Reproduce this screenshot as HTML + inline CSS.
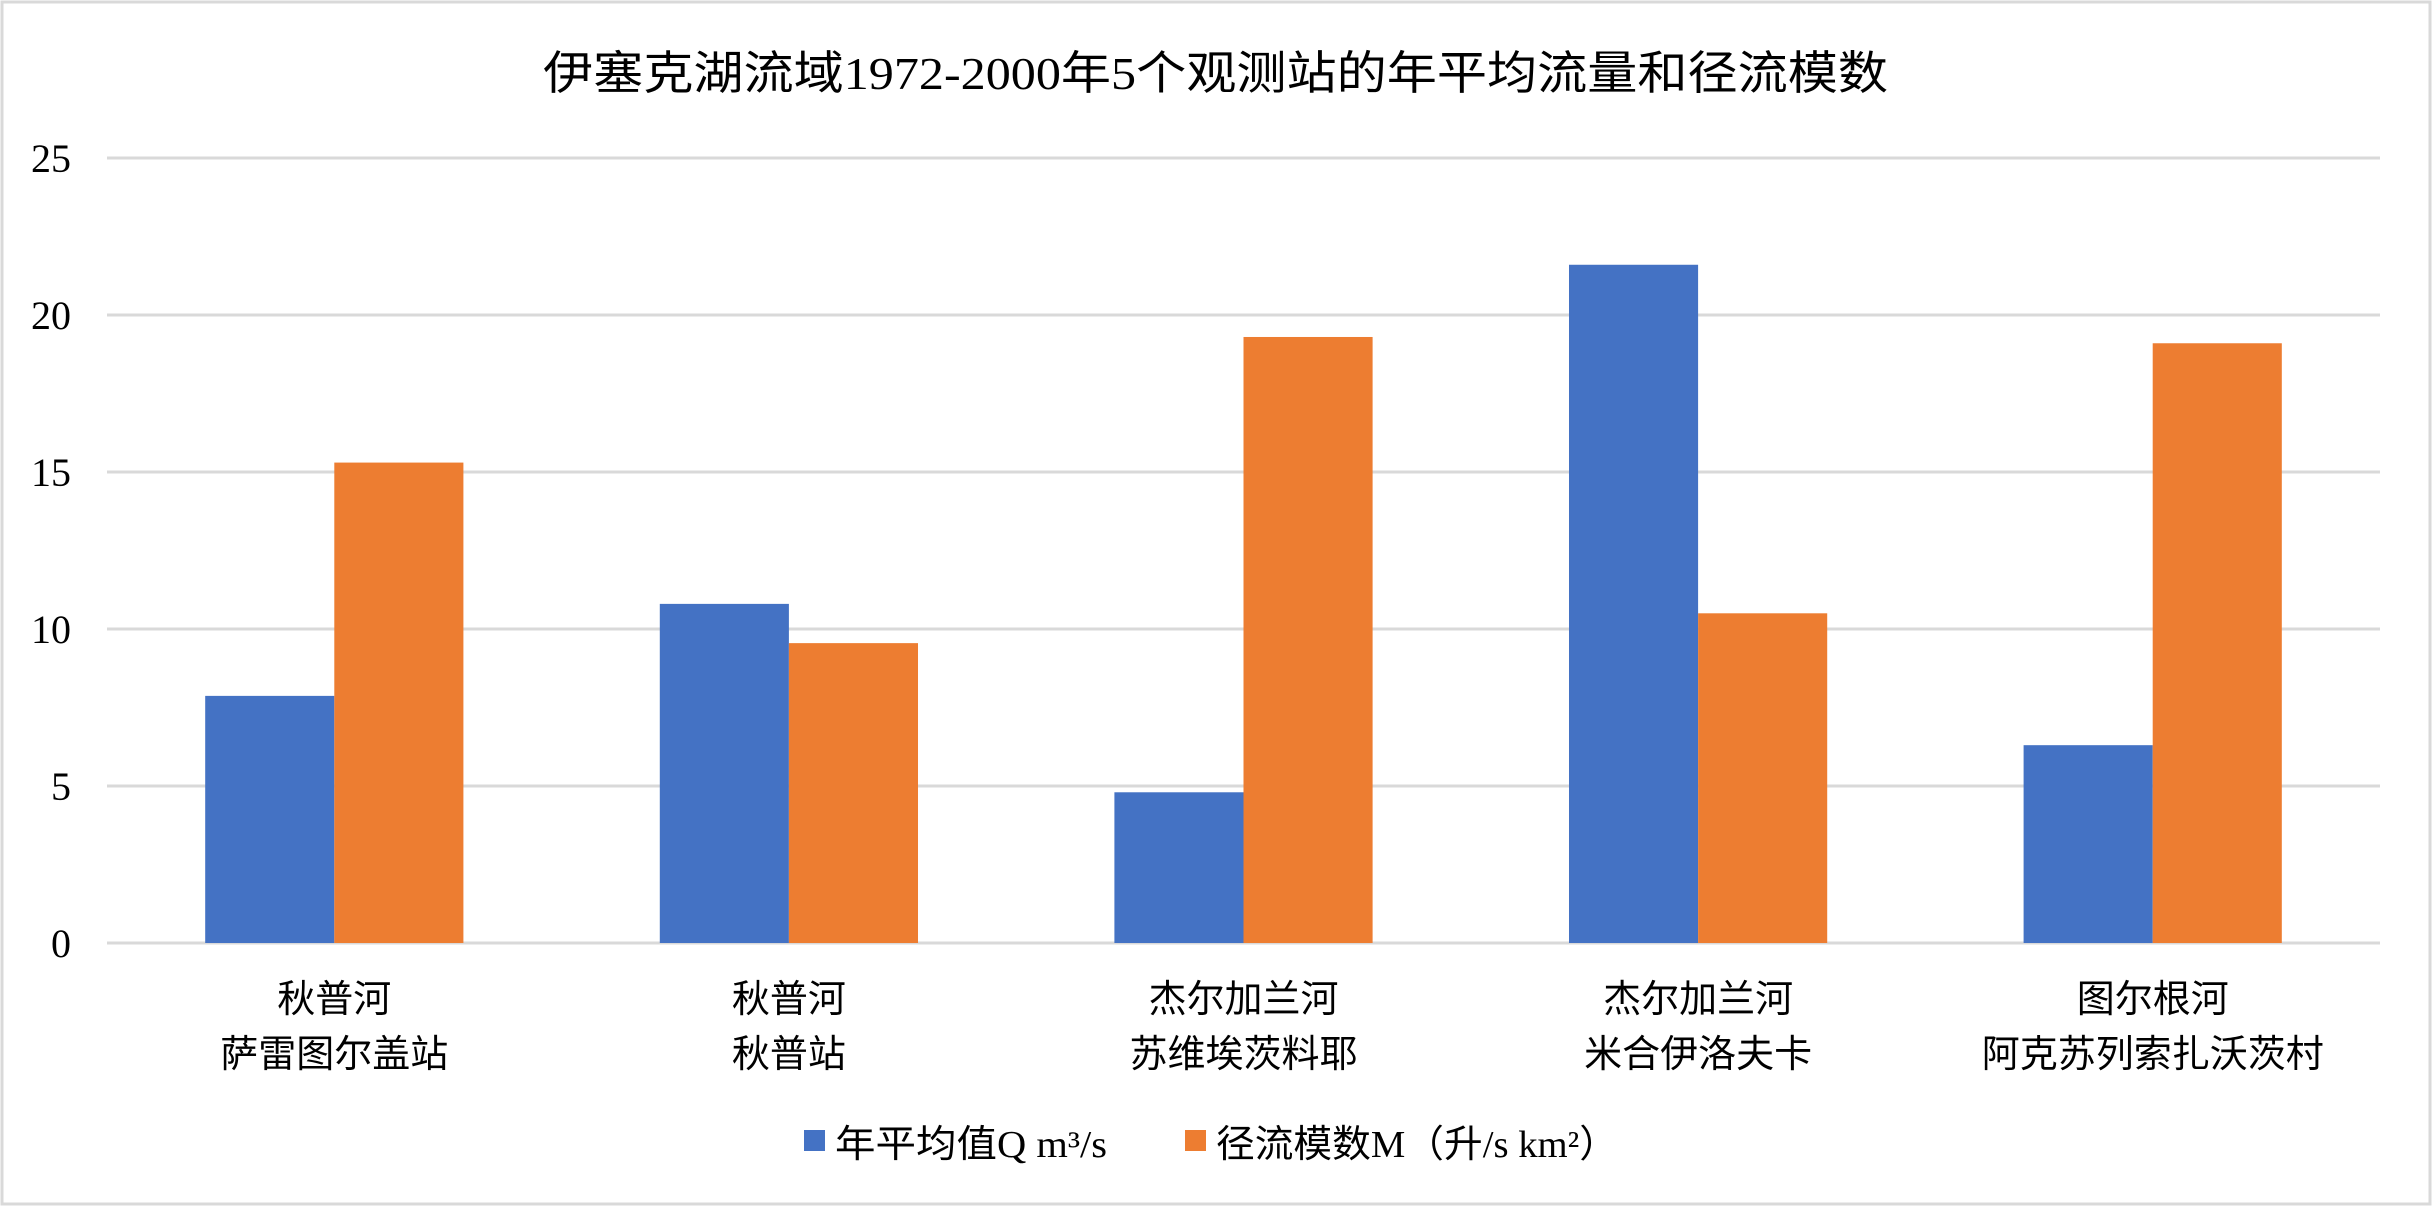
<!DOCTYPE html>
<html><head><meta charset="utf-8"><style>
html,body{margin:0;padding:0;background:#fff}
svg{display:block}
text{font-family:"Liberation Serif","Noto Sans CJK SC",serif;fill:#000}
.cjk{font-family:"Liberation Serif","Noto Sans CJK SC",sans-serif}
</style></head><body>
<svg id="chart" width="2432" height="1207" viewBox="0 0 2432 1207" xmlns="http://www.w3.org/2000/svg">
<rect x="2" y="2" width="2428" height="1202" fill="#fff" stroke="#d9d9d9" stroke-width="3"/>
<text class="cjk" x="543" y="89" font-size="46" textLength="1345" lengthAdjust="spacingAndGlyphs">伊塞克湖流域1972-2000年5个观测站的年平均流量和径流模数</text>
<g id="grid"></g>
<g id="yticks"></g>
<g id="bars"></g>
<g id="xlabels"></g>
<g>
<rect x="804" y="1130" width="21" height="21" fill="#4472c4"/>
<text class="cjk" x="835" y="1157" font-size="38" textLength="272" lengthAdjust="spacingAndGlyphs">年平均值Q m³/s</text>
<rect x="1185" y="1130" width="21" height="21" fill="#ed7d31"/>
<text class="cjk" x="1216" y="1157" font-size="38" textLength="402" lengthAdjust="spacingAndGlyphs">径流模数M（升/s km²）</text>
</g>
</svg>
<script>
const categoriesLine1 = ["秋普河","秋普河","杰尔加兰河","杰尔加兰河","图尔根河"];
const categoriesLine2 = ["萨雷图尔盖站","秋普站","苏维埃茨料耶","米合伊洛夫卡","阿克苏列索扎沃茨村"];
const seriesQ = [7.87, 10.8, 4.8, 21.6, 6.3];
const seriesM = [15.3, 9.55, 19.3, 10.5, 19.1];
const yTicks = [0, 5, 10, 15, 20, 25];

const NS = "http://www.w3.org/2000/svg";
const plotL = 107, plotR = 2380, y0 = 943, yTop = 158, yMax = 25;
const yScale = v => y0 - (v / yMax) * (y0 - yTop);
const catW = (plotR - plotL) / categoriesLine1.length;
const xCenter = i => plotL + catW * (i + 0.5);
const barW = catW * 0.284;

function mk(tag, attrs, parent) {
  const el = document.createElementNS(NS, tag);
  for (const k in attrs) el.setAttribute(k, attrs[k]);
  parent.appendChild(el);
  return el;
}
const grid = document.getElementById('grid');
const yt = document.getElementById('yticks');
yTicks.forEach(t => {
  const y = yScale(t);
  const l = mk('line', {x1: plotL, x2: plotR, y1: y, y2: y, stroke: '#d9d9d9', 'stroke-width': 3}, grid);
  
  
  const tx = mk('text', {x: 71, y: y + 14, 'font-size': 40, 'text-anchor': 'end'}, yt);
  tx.textContent = String(t);
  
  
});
const bars = document.getElementById('bars');
const xl = document.getElementById('xlabels');
categoriesLine1.forEach((c, i) => {
  const cx = xCenter(i);
  const b1 = mk('rect', {x: cx - barW, y: yScale(seriesQ[i]), width: barW, height: y0 - yScale(seriesQ[i]), fill: '#4472c4'}, bars);
  
  
  const b2 = mk('rect', {x: cx, y: yScale(seriesM[i]), width: barW, height: y0 - yScale(seriesM[i]), fill: '#ed7d31'}, bars);
  
  
  const t1 = mk('text', {x: cx, y: 1012, 'font-size': 38, 'text-anchor': 'middle', class: 'cjk'}, xl);
  t1.textContent = c;
  
  
  const t2 = mk('text', {x: cx, y: 1067, 'font-size': 38, 'text-anchor': 'middle', class: 'cjk'}, xl);
  t2.textContent = categoriesLine2[i];
  
  
});
</script>
</body></html>
